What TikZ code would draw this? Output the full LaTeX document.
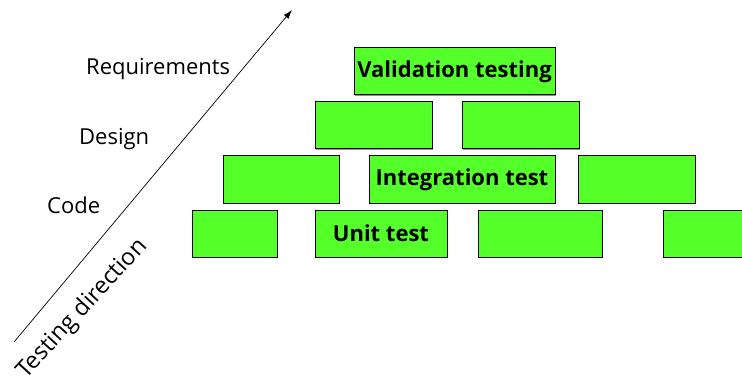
\documentclass[tikz,border=0pt]{standalone}
\usepackage{fontspec}
\setmainfont{Open Sans}
\usetikzlibrary{arrows.meta,shadows}
\definecolor{boxgreen}{RGB}{85,255,42}
\begin{document}
\begin{tikzpicture}[x=1pt,y=-1pt,
  gbox/.style={draw=black,line width=1pt,fill=boxgreen,minimum height=47pt,inner sep=0pt,
     drop shadow={shadow xshift=1.2pt,shadow yshift=-1.2pt,fill=black!55,opacity=0.8},
     font=\fontsize{22}{24}\selectfont\bfseries},
  lbl/.style={anchor=base west,inner sep=0pt,font=\fontsize{22}{24}\selectfont}]
\useasboundingbox (0,0) rectangle (742,385);
\fill[white] (0,0) rectangle (742,385);
% row 1
\node[gbox,minimum width=201pt] (val) at (454.5,71.5) {Validation testing};
% row 2
\node[gbox,minimum width=117pt] (d1) at (373.5,125.5) {};
\node[gbox,minimum width=117pt] (d2) at (520.5,125.5) {};
% row 3
\node[gbox,minimum width=116pt] (c1) at (281,179.5) {};
\node[gbox,minimum width=186pt] (int) at (462,179.5) {Integration test};
\node[gbox,minimum width=117pt] (c3) at (636.5,179.5) {};
% row 4
\node[gbox,minimum width=85pt] (u1) at (234.5,233.5) {};
\node[gbox,minimum width=132pt] (unit) at (381,233.5) {Unit test};
\node[gbox,minimum width=124pt] (u3) at (540,233.5) {};
\node[gbox,minimum width=100pt] (u4) at (713,233.5) {};
% labels
\node[lbl] (req) at (86,75) {Requirements};
\node[lbl] (des) at (79,145) {Design};
\node[lbl] (cod) at (47,213) {Code};
\node[lbl,rotate=47.5,font=\fontsize{23.5}{25}\selectfont] (dir) at (26,380) {Testing direction};
% arrow
\coordinate (as) at (14,342);
\coordinate (ae) at (292,10);
\draw[-{Latex[length=9pt,width=6pt]},line width=0.7pt] (as) -- (ae);
\end{tikzpicture}
\end{document}
